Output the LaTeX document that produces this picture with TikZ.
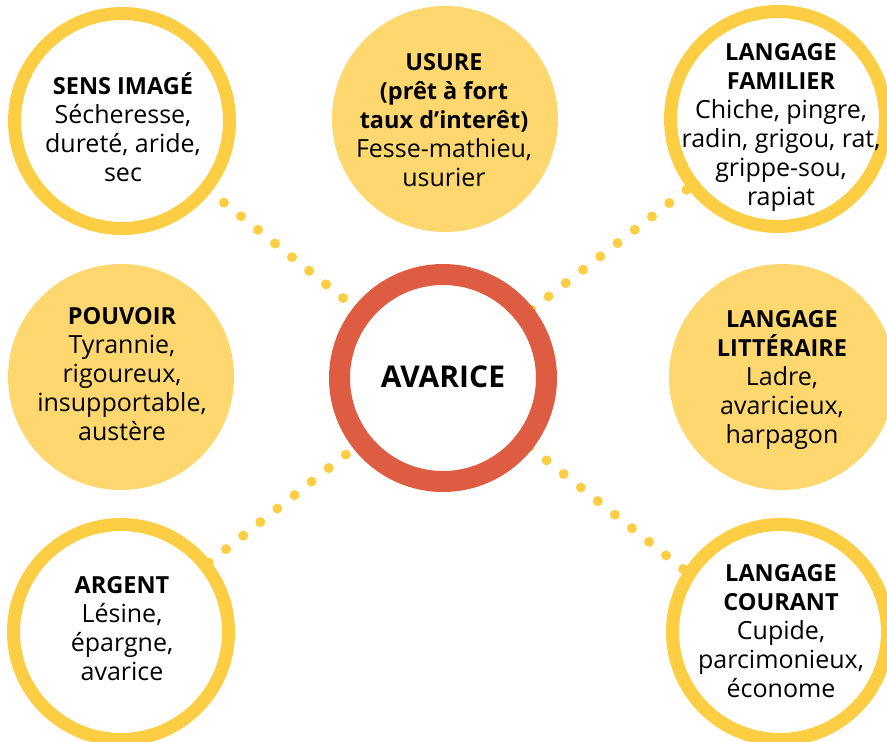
\documentclass[tikz,border=0pt]{standalone}
\usepackage{fontspec}
\setmainfont{Open Sans}
\usetikzlibrary{backgrounds}
\definecolor{ringy}{HTML}{FDCD44}
\definecolor{filly}{HTML}{FED76E}
\definecolor{redc}{HTML}{DE5C42}
\newcommand{\bt}[1]{{\fontsize{23.5}{29}\selectfont\bfseries #1}}
\begin{document}
\begin{tikzpicture}[x=1pt,y=-1pt,
  ring/.style={circle, draw=ringy, line width=13pt, fill=white, minimum size=215pt, inner sep=0pt},
  disc/.style={circle, fill=filly, minimum size=226pt, inner sep=0pt},
  core/.style={circle, draw=redc, line width=21pt, fill=white, minimum size=207pt, inner sep=0pt},
  lbl/.style={align=center, anchor=base, font=\fontsize{25}{29}\selectfont, inner sep=0pt},
  dots/.style={draw=ringy, line width=10pt, line cap=round, dash pattern=on 0pt off 21.8pt}]
\useasboundingbox (0,0) rectangle (887,742);
\clip (0,0) rectangle (887,742);
\node[ring] (sens) at (122,121) {};
\node[disc] (usure) at (445,119) {};
\node[ring] (fam) at (778,119) {};
\node[disc] (pouv) at (121,377) {};
\node[core] (avar) at (443,378) {};
\node[disc] (litt) at (782,377) {};
\node[ring] (arg) at (121,632) {};
\node[ring] (cour) at (780,632) {};
\coordinate (brend) at (770,638);
\begin{pgfonlayer}{background}
\draw[dots, dash phase=2.8pt] (avar.center) -- (sens.center);
\draw[dots, dash phase=19.2pt] (avar.center) -- (fam.center);
\draw[dots, dash phase=7.1pt] (avar.center) -- (arg.center);
\draw[dots, dash phase=20.2pt] (avar.center) -- (brend);
\end{pgfonlayer}
\node[lbl] (tsens) at (123,181) {\bt{SENS IMAGÉ}\\Sécheresse,\\dureté, aride,\\sec};
\node[lbl] (tusure) at (444,186) {\bt{USURE}\\\bt{(prêt à fort}\\\bt{taux d’interêt)}\\Fesse-mathieu,\\usurier};
\node[lbl] (tfam) at (781,205) {\bt{LANGAGE}\\\bt{FAMILIER}\\Chiche, pingre,\\radin, grigou, rat,\\grippe-sou,\\rapiat};
\node[lbl] (tpouv) at (122,440) {\bt{POUVOIR}\\Tyrannie,\\rigoureux,\\insupportable,\\austère};
\node[lbl, font=\fontsize{30}{36}\selectfont\bfseries] (tavar) at (443,387) {AVARICE};
\node[lbl] (tlitt) at (782,443) {\bt{LANGAGE}\\\bt{LITTÉRAIRE}\\Ladre,\\avaricieux,\\harpagon};
\node[lbl] (targ) at (122,680) {\bt{ARGENT}\\Lésine,\\épargne,\\avarice};
\node[lbl] (tcour) at (781,697) {\bt{LANGAGE}\\\bt{COURANT}\\Cupide,\\parcimonieux,\\économe};
\end{tikzpicture}
\end{document}
